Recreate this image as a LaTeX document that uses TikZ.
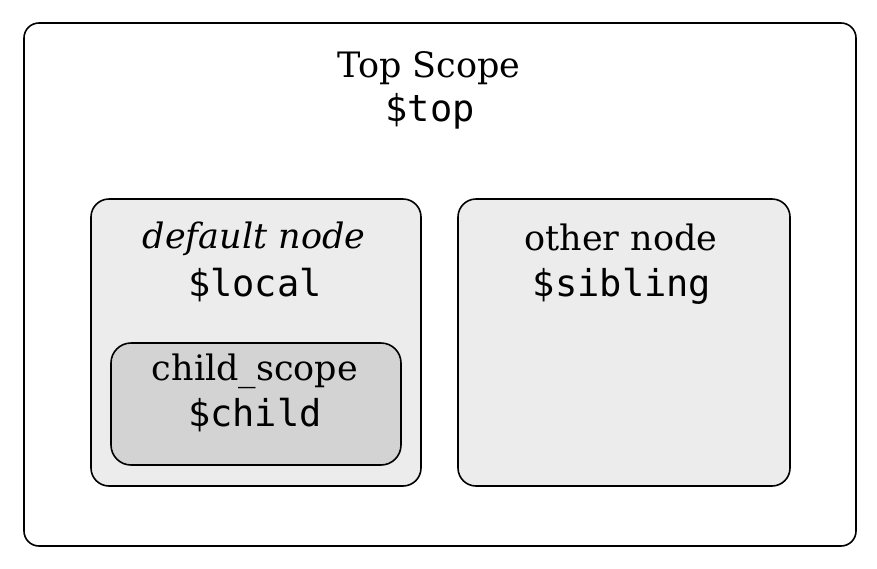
\documentclass[tikz,border=0pt]{standalone}
\usepackage{fontspec}
\setmainfont{DejaVu Serif}
\setmonofont{DejaVu Sans Mono}
\definecolor{lightfill}{HTML}{ECECEC}
\definecolor{childfill}{HTML}{D3D3D3}
\begin{document}
\begin{tikzpicture}[x=1pt,y=-1pt,
  scopebox/.style={draw=black, line width=1.6pt, rounded corners=#1, inner sep=0pt},
  title/.style={anchor=base, font=\fontsize{35}{40}\selectfont},
  var/.style={anchor=base, font=\fontsize{37}{42}\selectfont\ttfamily}]
\useasboundingbox (0,0) rectangle (877,568);
\node[scopebox=15pt, fill=white, minimum width=832pt, minimum height=523pt] (outer) at (440,284.5) {};
\node[scopebox=18pt, fill=lightfill, minimum width=330pt, minimum height=287pt] (left) at (256,342.5) {};
\node[scopebox=18pt, fill=lightfill, minimum width=332pt, minimum height=287pt] (right) at (624,342.5) {};
\node[scopebox=20pt, fill=childfill, minimum width=290pt, minimum height=122pt] (child) at (256,404) {};
\node[title] (toptitle) at (429,77) {Top Scope};
\node[var] (topvar) at (430,121) {\$top};
\node[title, font=\fontsize{35}{40}\selectfont\itshape] (lefttitle) at (254,248) {default node};
\node[var] (leftvar) at (255,296) {\$local};
\node[title] (childtitle) at (255,380) {child\_scope};
\node[var] (childvar) at (255,426) {\$child};
\node[title] (righttitle) at (621,250) {other node};
\node[var] (rightvar) at (622,296) {\$sibling};
\end{tikzpicture}
\end{document}
